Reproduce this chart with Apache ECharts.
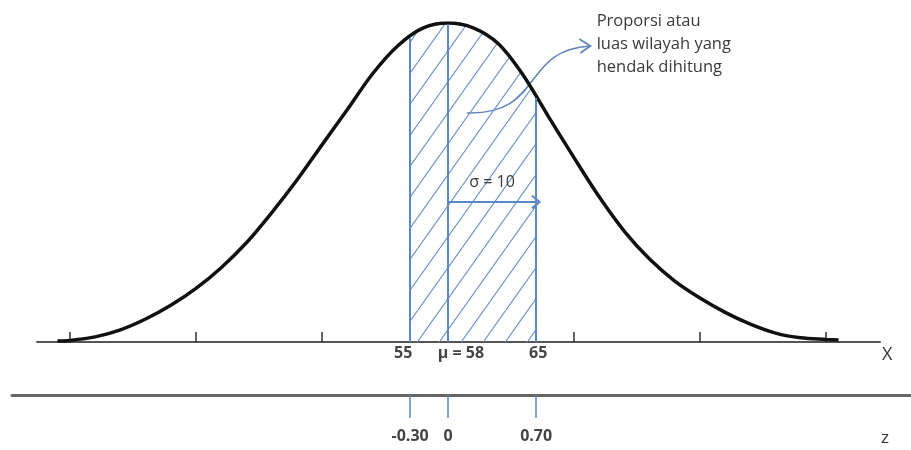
<!DOCTYPE html>
<html>
<head>
<meta charset="utf-8">
<script src="https://cdn.jsdelivr.net/npm/echarts@6/dist/echarts.min.js"></script>
<style>
  html, body { margin: 0; padding: 0; background: #fff; }
  #main { width: 911px; height: 450px; }
</style>
</head>
<body>
<div id="main"></div>
<script>
// Normal curve of X (mu = 58, sigma = 10): x positions and relative heights
const curveX = [27, 28, 30, 32, 34, 36, 38, 40, 42, 44, 46, 48, 50, 52, 54, 56, 58, 60, 62, 64, 66, 68, 70, 72, 74, 76, 78, 80, 82, 84, 86, 88, 89];
const curveY = [0.003, 0.005, 0.016, 0.038, 0.072, 0.115, 0.168, 0.233, 0.311, 0.405, 0.507, 0.618, 0.728, 0.840, 0.928, 0.984, 1.000, 0.985, 0.935, 0.835, 0.705, 0.578, 0.455, 0.347, 0.260, 0.191, 0.138, 0.093, 0.056, 0.028, 0.013, 0.008, 0.006];

// Vertical markers at x = 55, mu = 58 and 65, with the curve height at each
const markValues = [55, 58, 65];
const markTops = [0.952, 0.995, 0.765];
const markLabels = ['55', 'μ = 58', '65'];

// Tick positions along the X axis (mu ± k*sigma)
const xTicks = [28, 38, 48, 58, 68, 78, 88];

// Standardised scale z
const zValues = [-0.30, 0, 0.70];
const zLabels = ['-0.30', '0', '0.70'];

// Sigma arrow
const sigmaFrom = 58;
const sigmaTo = 65;
const sigmaLevel = 0.439;
const sigmaText = 'σ = 10';

// Callout text
const calloutLines = ['Proporsi atau', 'luas wilayah yang', 'hendak dihitung'];

const BLUE = '#5a89c5';
const HATCH = '#6d95ca';
const TEXT = '#3a3a3a';
const FONT = '"Open Sans", "Noto Sans", sans-serif';

// Diagonal hatch tile
function makeHatch() {
  const w = 22, h = 31;
  const c = document.createElement('canvas');
  c.width = w; c.height = h;
  const g = c.getContext('2d');
  g.strokeStyle = HATCH;
  g.lineWidth = 1.2;
  for (let k = -1; k <= 1; k++) {
    g.beginPath();
    g.moveTo(k * w, h);
    g.lineTo(k * w + w, 0);
    g.stroke();
  }
  return c;
}

// Area between 55 and 65 under the curve
const shadeData = [[markValues[0], markTops[0]]];
curveX.forEach((x, i) => {
  if (x > markValues[0] && x < markValues[2]) shadeData.push([x, curveY[i]]);
});
shadeData.push([markValues[2], markTops[2]]);

const curveData = curveX.map((x, i) => [x, curveY[i]]);

const verticals = markValues.map((v, i) => [
  { coord: [v, 0] },
  { coord: [v, markTops[i]] }
]);

const chevronUp = 'path://M0,10 L10,0 L20,10 L18,12 L10,4 L2,12 Z';

const chart = echarts.init(document.getElementById('main'), null, { renderer: 'canvas' });

chart.setOption({
  animation: false,
  backgroundColor: '#ffffff',
  textStyle: { fontFamily: FONT },
  grid: [
    { left: 37, right: 31, top: 23, bottom: 108 },
    { left: 12, right: 0, top: 380, bottom: 55 }
  ],
  xAxis: [
    {
      type: 'value', gridIndex: 0, min: 25.38, max: 92.29,
      axisLine: { show: true, lineStyle: { color: '#555', width: 2 } },
      axisTick: { show: true, inside: true, length: 10, customValues: xTicks,
        lineStyle: { color: '#333', width: 1.5 } },
      axisLabel: {
        customValues: markValues, margin: 3, color: '#444', fontSize: 16,
        fontWeight: 'bold', fontFamily: FONT,
        formatter: (v) => {
          const i = markValues.findIndex(m => Math.abs(m - v) < 1e-6);
          return '{s' + i + '|' + markLabels[i] + '}';
        },
        rich: {
          s0: { fontSize: 16, fontWeight: 'bold', color: '#444', padding: [0, 14, 0, 0] },
          s1: { fontSize: 16, fontWeight: 'bold', color: '#444', padding: [0, 0, 0, 26] },
          s2: { fontSize: 16, fontWeight: 'bold', color: '#444', padding: [0, 0, 0, 4] }
        }
      },
      splitLine: { show: false },
      name: 'X', nameLocation: 'end', nameGap: 2,
      nameTextStyle: { fontSize: 18, color: '#333', verticalAlign: 'top', padding: [4, 0, 0, 0] }
    },
    {
      type: 'value', gridIndex: 1, min: -3.46, max: 3.675,
      axisLine: { show: true, lineStyle: { color: '#666', width: 3 } },
      axisTick: { show: true, inside: false, length: 23, customValues: zValues,
        lineStyle: { color: BLUE, width: 1.5 } },
      axisLabel: {
        customValues: zValues, margin: 33, color: '#444', fontSize: 16,
        fontWeight: 'bold', fontFamily: FONT,
        formatter: (v) => zLabels[zValues.findIndex(z => Math.abs(z - v) < 1e-6)]
      },
      splitLine: { show: false },
      name: 'z', nameLocation: 'end', nameGap: -30,
      nameTextStyle: { fontSize: 17, color: '#333', verticalAlign: 'top', padding: [35, 0, 0, 0] }
    }
  ],
  yAxis: [
    { type: 'value', gridIndex: 0, min: 0, max: 1, show: false },
    { type: 'value', gridIndex: 1, min: 0, max: 1, show: false }
  ],
  series: [
    {
      name: 'area', type: 'line', xAxisIndex: 0, yAxisIndex: 0,
      data: shadeData, smooth: 0.3, symbol: 'none', z: 1,
      lineStyle: { width: 0 },
      areaStyle: { color: { image: makeHatch(), repeat: 'repeat' }, opacity: 1 },
      markLine: {
        silent: true, symbol: 'none', animation: false,
        lineStyle: { color: BLUE, width: 2, type: 'solid' },
        label: { show: false },
        data: verticals
      }
    },
    {
      name: 'sigma', type: 'line', xAxisIndex: 0, yAxisIndex: 0, data: [],
      markLine: {
        silent: true, animation: false,
        symbol: ['none', chevronUp], symbolSize: [14, 10],
        lineStyle: { color: BLUE, width: 2, type: 'solid' },
        label: { show: true, position: 'middle', formatter: sigmaText,
          color: '#3a3a3a', fontSize: 16, fontFamily: FONT, distance: 12 },
        data: [[{ coord: [sigmaFrom, sigmaLevel] }, { coord: [sigmaTo, sigmaLevel] }]]
      }
    },
    {
      name: 'curve', type: 'line', xAxisIndex: 0, yAxisIndex: 0,
      data: curveData, smooth: 0.3, symbol: 'none', z: 3,
      lineStyle: { color: '#111', width: 3.5 }
    }
  ]
});

// Callout: curved arrow from the shaded area to the explanatory text
const p0 = chart.convertToPixel({ gridIndex: 0 }, [59.5, 0.718]);
const p3 = chart.convertToPixel({ gridIndex: 0 }, [69.3, 0.928]);
const tp = chart.convertToPixel({ gridIndex: 0 }, [69.8, 1.04]);

chart.setOption({
  graphic: [
    {
      type: 'bezierCurve', silent: true,
      shape: { x1: p0[0], y1: p0[1], cpx1: p0[0] + 78, cpy1: p0[1] + 2,
               cpx2: p3[0] - 70, cpy2: p3[1] + 4, x2: p3[0], y2: p3[1] },
      style: { stroke: '#5f87b8', lineWidth: 1.6, fill: null }
    },
    {
      type: 'polyline', silent: true,
      shape: { points: [[p3[0] - 11, p3[1] - 7], [p3[0], p3[1]], [p3[0] - 10, p3[1] + 7]] },
      style: { stroke: '#5f87b8', lineWidth: 1.8, fill: null }
    },
    {
      type: 'text', silent: true, x: tp[0], y: tp[1],
      style: { text: calloutLines.join('\n'), fill: TEXT, fontSize: 16.5,
               fontFamily: FONT, lineHeight: 23, align: 'left', verticalAlign: 'top' }
    }
  ]
});
</script>
</body>
</html>
